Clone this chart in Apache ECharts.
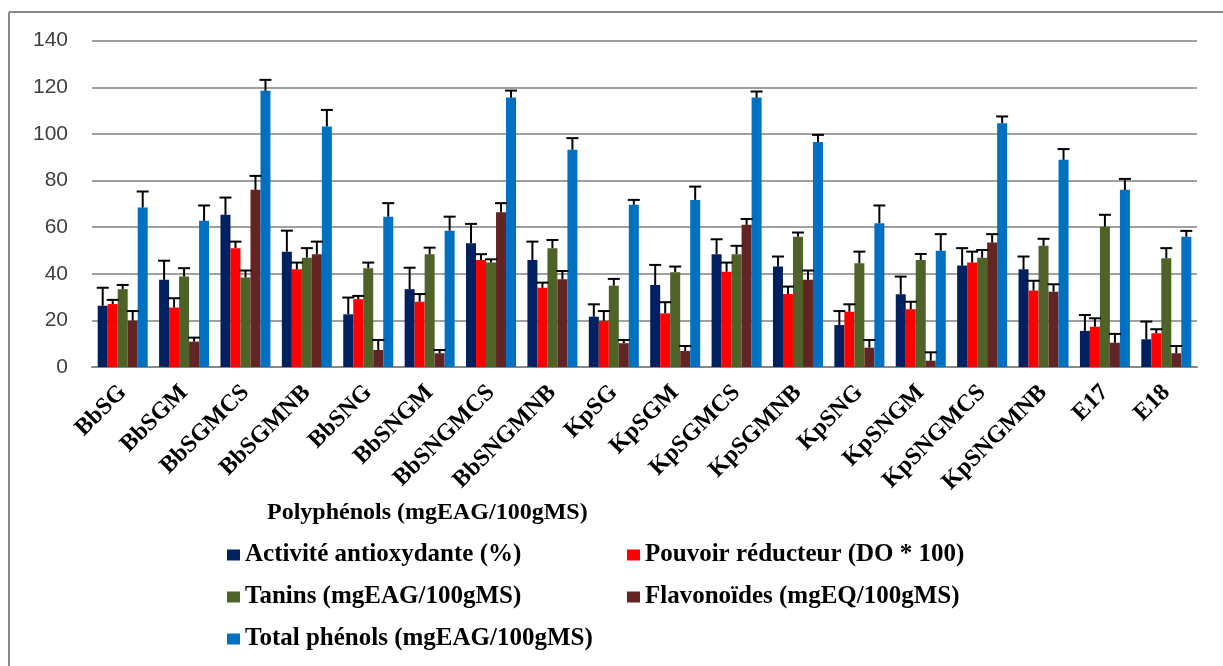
<!DOCTYPE html>
<html>
<head>
<meta charset="utf-8">
<script src="https://cdn.jsdelivr.net/npm/echarts@6/dist/echarts.min.js"></script>
<style>html,body{margin:0;padding:0;background:#fff;}#c{width:1223px;height:666px;}</style>
</head>
<body>
<div id="c"></div>
<script>
const categories = ['BbSG','BbSGM','BbSGMCS','BbSGMNB','BbSNG','BbSNGM','BbSNGMCS','BbSNGMNB','KpSG','KpSGM','KpSGMCS','KpSGMNB','KpSNG','KpSNGM','KpSNGMCS','KpSNGMNB','E17','E18'];
const seriesNames = ['Activité antioxydante (%)','Pouvoir réducteur (DO * 100)','Tanins (mgEAG/100gMS)','Flavonoïdes (mgEQ/100gMS)','Total phénols (mgEAG/100gMS)'];
const activite = [26.3, 37.4, 65.3, 49.5, 22.6, 33.4, 53.1, 45.9, 21.6, 35.2, 48.4, 43.1, 18, 31.2, 43.5, 41.9, 15.5, 11.9];
const activiteErr = [7.7, 8.2, 7.4, 9, 7.2, 9.2, 8.3, 7.9, 5.3, 8.6, 6.4, 4.3, 6, 7.6, 7.5, 5.5, 6.8, 7.6];
const pouvoir = [27, 25.5, 51, 41.9, 29.1, 28, 45.9, 34, 19.8, 23, 40.9, 31.3, 23.7, 24.8, 44.8, 32.8, 17.3, 14.5];
const pouvoirErr = [1.8, 4, 2.8, 2.9, 1.4, 3.3, 2.5, 2.2, 4.2, 4.8, 3.9, 3.2, 3.2, 3.2, 4.7, 4.2, 3.6, 1.7];
const tanins = [33.4, 38.8, 38.4, 46.9, 42.4, 48.4, 44.8, 51, 34.9, 40.7, 48.4, 55.9, 44.5, 45.9, 46.9, 52, 60.2, 46.7];
const taninsErr = [1.8, 3.6, 3, 4.1, 2.4, 2.8, 1.4, 3.5, 2.9, 2.4, 3.6, 1.8, 5, 2.6, 3.3, 3, 5.1, 4.3];
const flavonoides = [19.9, 10.9, 76, 48.4, 7.3, 5.9, 66.4, 37.6, 10.2, 6.9, 61, 37.4, 8.3, 2.7, 53.4, 32.3, 10.4, 5.9];
const flavonoidesErr = [4.1, 1.7, 6, 5.4, 4.3, 1.4, 3.9, 3.6, 1.4, 2.1, 2.5, 4, 3.3, 3.6, 3.6, 3.2, 3.8, 3.1];
const totalPhenols = [68.4, 62.7, 118.5, 103.2, 64.5, 58.5, 115.6, 93.2, 69.6, 71.7, 115.6, 96.5, 61.7, 49.9, 104.6, 88.9, 76, 55.9];
const totalPhenolsErr = [6.9, 6.6, 4.7, 7.1, 5.8, 6, 3, 5, 2.1, 5.7, 2.6, 3.1, 7.6, 7.1, 2.9, 4.6, 4.7, 2.5];
const yTicks = ['0','20','40','60','80','100','120','140'];
const xTitle = 'Polyphénols (mgEAG/100gMS)';

const values = [activite, pouvoir, tanins, flavonoides, totalPhenols];
const errors = [activiteErr, pouvoirErr, taninsErr, flavonoidesErr, totalPhenolsErr];
const colors = ['#002060', '#FF0000', '#4F6228', '#632523', '#0070C0'];
const BW = 10;
const serifFont = '"Liberation Serif", "Times New Roman", serif';

const series = [];
values.forEach((v, i) => {
  series.push({
    name: seriesNames[i], type: 'bar', data: v, barWidth: BW, barGap: '0%',
    itemStyle: { color: colors[i] }, z: 2
  });
});
values.forEach((v, i) => {
  series.push({
    name: seriesNames[i] + ' err', type: 'custom', z: 5,
    data: v.map((val, k) => [k, val, val + errors[i][k]]),
    renderItem: function (params, api) {
      const lo = api.coord([api.value(0), api.value(1)]);
      const hi = api.coord([api.value(0), api.value(2)]);
      const x = lo[0] + (i - 2) * BW;
      return {
        type: 'group',
        children: [
          { type: 'line', shape: { x1: x, y1: lo[1], x2: x, y2: hi[1] }, style: { stroke: '#000', lineWidth: 2 } },
          { type: 'line', shape: { x1: x - 6, y1: hi[1], x2: x + 6, y2: hi[1] }, style: { stroke: '#000', lineWidth: 2 } }
        ]
      };
    },
    silent: true, tooltip: { show: false }
  });
});

const legendPos = [[227, 541], [627, 541], [227, 583], [627, 583], [227, 625]];
const legends = seriesNames.map((n, i) => ({
  data: [n], left: legendPos[i][0], top: legendPos[i][1], padding: 0,
  itemWidth: 13, itemHeight: 11, itemGap: 0, icon: 'rect',
  textStyle: { fontFamily: serifFont, fontWeight: 'bold', fontSize: 25, color: '#000', lineHeight: 28, padding: [0, 0, 0, 0] }
}));

const chart = echarts.init(document.getElementById('c'));
chart.setOption({
  animation: false,
  backgroundColor: '#fff',
  title: {
    text: xTitle, left: 267, top: 501, padding: 0,
    textStyle: { fontFamily: serifFont, fontWeight: 'bold', fontSize: 24, color: '#000' }
  },
  legend: legends,
  grid: { left: 92, right: 26, top: 40.7, bottom: 299, containLabel: false },
  xAxis: {
    type: 'category', data: categories,
    axisLine: { lineStyle: { color: '#888', width: 2 } },
    axisTick: { show: false },
    axisLabel: { rotate: 45, interval: 0, margin: 22, fontFamily: serifFont, fontWeight: 'bold', fontSize: 24, color: '#000' }
  },
  yAxis: {
    type: 'value', min: 0, max: 140, interval: 20,
    axisLine: { show: false }, axisTick: { show: false },
    axisLabel: { margin: 24, fontFamily: '"Liberation Sans", Arial, sans-serif', fontSize: 21, color: '#404040',
      formatter: (val) => yTicks[Math.round(val / 20)] },
    splitLine: { lineStyle: { color: '#a0a0a0', width: 2 } }
  },
  graphic: [
    { type: 'line', shape: { x1: 9, y1: 12, x2: 1223, y2: 12 }, style: { stroke: '#888', lineWidth: 2 } },
    { type: 'line', shape: { x1: 9, y1: 12, x2: 9, y2: 666 }, style: { stroke: '#888', lineWidth: 2 } }
  ],
  series: series
});
</script>
</body>
</html>
